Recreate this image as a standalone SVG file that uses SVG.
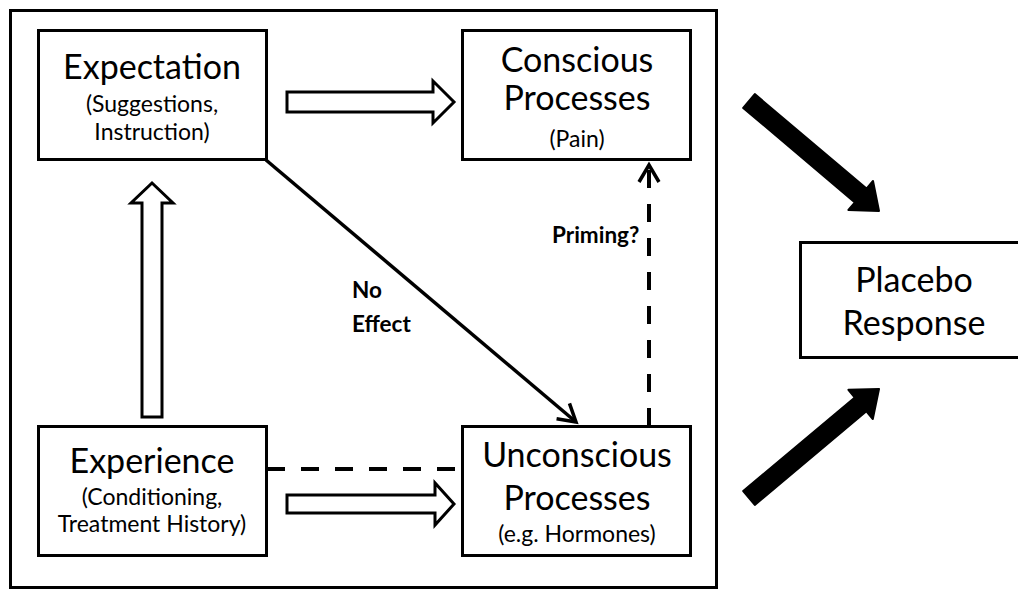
<svg xmlns="http://www.w3.org/2000/svg" width="1018" height="590" viewBox="0 0 1018 590">
<style>
.box{fill:#fff;stroke:#000;stroke-width:3}
.t{font-family:Lato,"Liberation Sans",sans-serif;font-size:34px;fill:#000;text-anchor:middle}
.s{font-family:Lato,"Liberation Sans",sans-serif;font-size:23px;fill:#000;text-anchor:middle}
.b{font-family:Lato,"Liberation Sans",sans-serif;font-size:22.5px;font-weight:bold;fill:#000}
.hollow{fill:#fff;stroke:#000;stroke-width:3;stroke-linejoin:miter}
.solid{fill:#000;stroke:#000;stroke-width:2;stroke-linejoin:round}
.ln{fill:none;stroke:#000;stroke-width:3.5}
.dash{fill:none;stroke:#000;stroke-width:4;stroke-dasharray:18 16}
</style>
<defs>
<marker id="chev" markerUnits="userSpaceOnUse" markerWidth="30" markerHeight="30" viewBox="-20 -15 30 30" refX="0" refY="0" orient="auto">
<path d="M-17,-10 L0,0 L-17,10" fill="none" stroke="#000" stroke-width="3.5" stroke-dasharray="none"/>
</marker>
</defs>
<rect width="1018" height="590" fill="#fff"/>
<rect x="10.5" y="10.5" width="706" height="577" fill="none" stroke="#000" stroke-width="3"/>
<g id="connectors">
<polygon class="hollow" points="287,92 433,92 433,81 454,102 433,123 433,112 287,112"/>
<polygon class="hollow" points="287,495 435,495 435,483 454,504 435,525 435,513 287,513"/>
<polygon class="hollow" points="142,417 142,203 131,203 152,183 173,203 162,203 162,417"/>
<line class="dash" x1="267" y1="469" x2="462" y2="469"/>
<line class="dash" x1="649" y1="426" x2="649" y2="165" marker-end="url(#chev)"/>
<line class="ln" x1="266" y1="160" x2="576" y2="422" marker-end="url(#chev)"/>
<polygon class="solid" points="754.8,94.1 866.5,188.6 873,181 879,211 848.4,210 854.9,202.4 743.2,107.9"/>
<polygon class="solid" points="754.8,504.9 866.4,411.3 872.8,419 879,389 848.4,389.8 854.8,397.5 743.2,491.1"/>
<text class="b" x="352" y="298">No</text>
<text class="b" x="352" y="332">Effect</text>
<text class="b" x="552" y="243">Priming?</text>
</g>
<g id="expectation">
<rect class="box" x="38.5" y="30.5" width="228" height="129"/>
<text class="t" x="152" y="79">Expectation</text>
<text class="s" x="152" y="112">(Suggestions,</text>
<text class="s" x="152" y="140">Instruction)</text>
</g>
<g id="conscious">
<rect class="box" x="462.5" y="30.5" width="228" height="129"/>
<text class="t" x="577" y="72">Conscious</text>
<text class="t" x="577" y="110">Processes</text>
<text class="s" x="577" y="147">(Pain)</text>
</g>
<g id="experience">
<rect class="box" x="38.5" y="426.5" width="228" height="129"/>
<text class="t" x="152" y="473">Experience</text>
<text class="s" x="152" y="505">(Conditioning,</text>
<text class="s" x="152" y="532">Treatment History)</text>
</g>
<g id="unconscious">
<rect class="box" x="462.5" y="426.5" width="228" height="129"/>
<text class="t" x="577" y="467">Unconscious</text>
<text class="t" x="577" y="510">Processes</text>
<text class="s" x="577" y="542">(e.g. Hormones)</text>
</g>
<g id="placebo">
<rect class="box" x="800.5" y="242.5" width="230" height="115"/>
<text class="t" x="914" y="292">Placebo</text>
<text class="t" x="914" y="335">Response</text>
</g>
</svg>
